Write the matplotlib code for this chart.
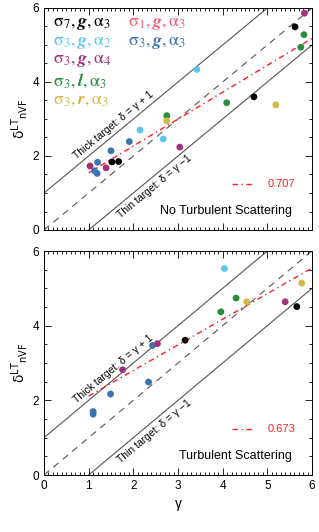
import numpy as np
import matplotlib
matplotlib.use("Agg")
import matplotlib.pyplot as plt
from matplotlib.ticker import MultipleLocator

plt.rcParams['font.family'] = ['Liberation Sans', 'DejaVu Sans']
plt.rcParams['mathtext.fontset'] = 'dejavusans'

# ---------------- data ----------------
series_names = ['black', 'lightblue', 'blue', 'magenta', 'green', 'yellow']
series_colors = {'black': '#000000', 'lightblue': '#5cc8f0', 'blue': '#3b72b0',
                 'magenta': '#a3307c', 'green': '#2a8c3c', 'yellow': '#d2ba46'}

# panel 1: No Turbulent Scattering
top_black_x = [1.52, 1.67, 4.70, 5.62]
top_black_y = [1.84, 1.85, 3.60, 5.49]
top_lightblue_x = [2.15, 2.67, 3.42]
top_lightblue_y = [2.70, 2.46, 4.34]
top_blue_x = [1.91, 1.50, 1.20, 1.13, 1.19]
top_blue_y = [2.39, 2.14, 1.83, 1.60, 1.53]
top_magenta_x = [3.04, 1.03, 1.39, 5.83]
top_magenta_y = [2.24, 1.73, 1.68, 5.86]
top_green_x = [2.75, 4.09, 5.82, 5.75]
top_green_y = [3.09, 3.44, 5.28, 4.94]
top_yellow_x = [2.75, 5.19]
top_yellow_y = [2.95, 3.38]

# panel 2: Turbulent Scattering
bot_black_x = [3.16, 5.66]
bot_black_y = [3.61, 4.51]
bot_lightblue_x = [4.04]
bot_lightblue_y = [5.53]
bot_blue_x = [2.43, 1.49, 2.34, 1.10, 1.10]
bot_blue_y = [3.47, 2.17, 2.49, 1.70, 1.63]
bot_magenta_x = [2.54, 1.76, 5.40]
bot_magenta_y = [3.52, 2.82, 4.64]
bot_green_x = [4.30, 3.96]
bot_green_y = [4.74, 4.37]
bot_yellow_x = [4.54, 5.77]
bot_yellow_y = [4.64, 5.14]

# fit lines (slope, intercept, x-range) and correlation labels
top_fit = (0.727, 0.816)
bot_fit = (0.686, 1.427)
fit_xrange = (1.0, 6.0)
top_r = '0.707'
bot_r = '0.673'
top_title = 'No Turbulent Scattering'
bot_title = 'Turbulent Scattering'

legend_labels = [r'$\mathrm{\sigma}_7,\boldsymbol{g},\mathrm{\alpha}_3$',
                 r'$\mathrm{\sigma}_1,\boldsymbol{g},\mathrm{\alpha}_3$',
                 r'$\mathrm{\sigma}_3,\boldsymbol{g},\mathrm{\alpha}_2$',
                 r'$\mathrm{\sigma}_3,\boldsymbol{g},\mathrm{\alpha}_3$',
                 r'$\mathrm{\sigma}_3,\boldsymbol{g},\mathrm{\alpha}_4$',
                 r'$\mathrm{\sigma}_3,\boldsymbol{l},\mathrm{\alpha}_3$',
                 r'$\mathrm{\sigma}_3,\boldsymbol{r},\mathrm{\alpha}_3$']
legend_colors = ['#000000', '#f2607a', '#5cc8f0', '#3b72b0', '#a3307c', '#2a8c3c', '#d2ba46']

top_data = {'black': (top_black_x, top_black_y), 'lightblue': (top_lightblue_x, top_lightblue_y),
            'blue': (top_blue_x, top_blue_y), 'magenta': (top_magenta_x, top_magenta_y),
            'green': (top_green_x, top_green_y), 'yellow': (top_yellow_x, top_yellow_y)}
bot_data = {'black': (bot_black_x, bot_black_y), 'lightblue': (bot_lightblue_x, bot_lightblue_y),
            'blue': (bot_blue_x, bot_blue_y), 'magenta': (bot_magenta_x, bot_magenta_y),
            'green': (bot_green_x, bot_green_y), 'yellow': (bot_yellow_x, bot_yellow_y)}

# ---------------- figure ----------------
fig = plt.figure(figsize=(3.19, 5.32), dpi=100)
ax1 = fig.add_axes([44/319, 1-230/532, 268/319, 222/532])
ax2 = fig.add_axes([44/319, 1-475/532, 268/319, 224/532])

line_col = '#555555'


def setup(ax, data, fit, rval, title, show_xlabels):
    ax.set_xlim(0, 6)
    ax.set_ylim(0, 6)
    xx = np.array([0, 6])
    ax.plot(xx, xx + 1, color=line_col, lw=0.8, zorder=1)
    ax.plot(xx, xx, color=line_col, lw=0.8, dashes=(6, 5), zorder=1)
    ax.plot(xx, xx - 1, color=line_col, lw=0.8, zorder=1)
    fx = np.array(fit_xrange)
    ax.plot(fx, fit[0]*fx + fit[1], color='#ff2020', lw=1.0, dashes=(4, 2.5, 1, 2.5), zorder=2)
    for name in series_names:
        xs, ys = data[name]
        ax.scatter(xs, ys, s=24, color=series_colors[name], edgecolors='none', zorder=3)
    ax.xaxis.set_major_locator(MultipleLocator(1))
    ax.xaxis.set_minor_locator(MultipleLocator(0.1))
    ax.yaxis.set_major_locator(MultipleLocator(2))
    ax.yaxis.set_minor_locator(MultipleLocator(0.5))
    ax.tick_params(which='both', direction='in', top=True, right=True, labelsize=8.5, width=0.6)
    ax.tick_params(which='major', length=5)
    ax.tick_params(which='minor', length=2.5)
    if not show_xlabels:
        ax.tick_params(labelbottom=False)
    for sp in ax.spines.values():
        sp.set_linewidth(0.7)
    ax.set_ylabel(r'$\mathrm{\delta}^{\mathsf{LT}}{}_{\mathsf{nVF}}$', fontsize=10, labelpad=2)
    # fit legend
    ax.plot([4.21, 4.66], [1.24, 1.24], color='#ff2020', lw=1.0, dashes=(4, 2.5, 1, 2.5))
    ax.text(5.01, 1.24, rval, color='#ff2020', fontsize=8, va='center', ha='left')
    ax.text(5.55, 0.52, title, fontsize=9, ha='right', va='center')
    # rotated annotations
    p0 = ax.transData.transform((0, 0))
    p1 = ax.transData.transform((1, 1))
    ang = np.degrees(np.arctan2(p1[1]-p0[1], p1[0]-p0[0]))
    ax.annotate('Thick target: δ = γ + 1', xy=(0.80, 1.80), xytext=(-1.0, 2.0),
                textcoords='offset points', rotation=ang, rotation_mode='anchor',
                ha='left', va='bottom', fontsize=7.5)
    ax.annotate('Thin target: δ = γ \u22121', xy=(1.55, 0.55), xytext=(1.5, -2.0),
                textcoords='offset points', rotation=ang, rotation_mode='anchor',
                ha='left', va='top', fontsize=7.5)


setup(ax1, top_data, top_fit, top_r, top_title, False)
setup(ax2, bot_data, bot_fit, bot_r, bot_title, True)
ax2.set_xlabel('γ', fontsize=10, labelpad=4)

# series legend text in top panel
leg_pos = [(0.21, 5.59), (1.88, 5.59), (0.21, 5.08), (1.88, 5.08),
           (0.21, 4.57), (0.21, 4.05), (0.21, 3.54)]
for lab, col, (lx, ly) in zip(legend_labels, legend_colors, leg_pos):
    ax1.text(lx, ly, lab, color=col, fontsize=13, ha='left', va='center',
             math_fontfamily='stix')

fig.savefig('out.png', dpi=100)
